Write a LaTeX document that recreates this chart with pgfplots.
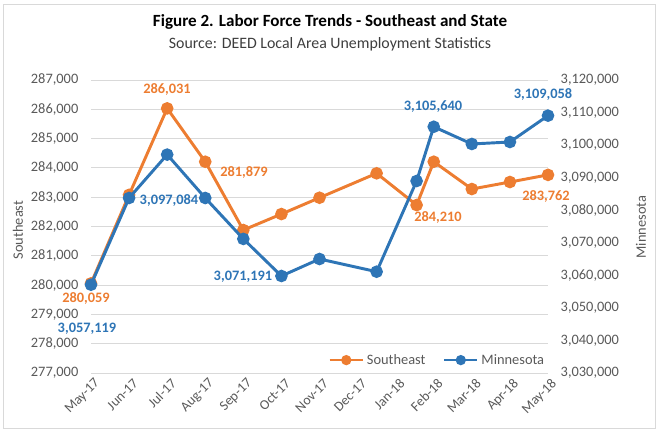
\documentclass[border=0pt]{standalone}
\usepackage{pgfplots}
\pgfplotsset{compat=1.18}
\usepackage{fontspec}
\setmainfont{Carlito}
\definecolor{seor}{HTML}{ED7D31}
\definecolor{mnbl}{HTML}{2E75B6}
\definecolor{txt}{HTML}{595959}
\definecolor{gridc}{HTML}{D9D9D9}
\begin{document}
\begin{tikzpicture}[x=0.75pt,y=0.75pt]
\useasboundingbox (0,0) rectangle (659,437);
\draw[color=gridc, line width=0.75pt] (3,9) rectangle (655,433);
\pgfplotsset{
  every axis/.append style={
    at={(68.25pt,48pt)}, anchor=south west, scale only axis,
    width=342.75pt, height=219.75pt, xmin=0, xmax=12, clip=false,
    major tick length=0pt, scaled y ticks=false,
    tick label style={font=\fontsize{10.8}{12}\selectfont, color=txt},
    /pgf/number format/.cd, fixed, 1000 sep={,}, assume math mode=true,
  },
  legimg/.style={legend image code/.code={\draw[mark repeat=2,mark phase=2,##1] plot coordinates {(0pt,0pt) (12.5pt,0pt) (25pt,0pt)};}},
}
\begin{axis}[
  axis y line*=left, axis x line*=bottom,
  axis line style={draw=none},
  ymin=277000, ymax=287000,
  ytick={277000,278000,279000,280000,281000,282000,283000,284000,285000,286000,287000},
  ymajorgrids, grid style={color=gridc, line width=0.75pt},
  xtick={0,1,2,3,4,5,6,7,8,9,10,11,12},
  xticklabels={May-17,Jun-17,Jul-17,Aug-17,Sep-17,Oct-17,Nov-17,Dec-17,Jan-18,Feb-18,Mar-18,Apr-18,May-18},
  xticklabel style={rotate=45, anchor=east, font=\fontsize{10.4}{12}\selectfont, xshift=2.5pt, yshift=-8pt},
  yticklabel style={xshift=-6pt},
]
\addplot[color=seor, line width=2.2pt, mark=*, mark size=3.6pt] coordinates {
 (0,280059) (1,283080) (2,286031) (3,284210) (4,281879) (5,282425) (6,282982)
 (7.5,283815) (8.55,282732) (9,284211) (10,283279) (11,283518) (12,283762)
};
\end{axis}
\begin{axis}[
  axis y line*=right, axis x line=none,
  axis line style={draw=none},
  ymin=3030000, ymax=3120000,
  ytick={3030000,3040000,3050000,3060000,3070000,3080000,3090000,3100000,3110000,3120000},
  yticklabel style={xshift=6pt},
  legend columns=2,
  legend style={at={(0.998,0.044)}, anchor=east, draw=none, fill=none,
    font=\fontsize{10.8}{12}\selectfont\color{txt},
    /tikz/every even column/.append style={column sep=11pt},
    /tikz/every odd column/.append style={column sep=0pt},
    cells={anchor=west}, inner sep=0pt},
]
\addlegendimage{color=seor, line width=2pt, mark=*, mark size=2.8pt, legimg}
\addlegendentry{Southeast}
\addplot[color=mnbl, line width=2.2pt, mark=*, mark size=3.6pt, forget plot] coordinates {
 (0,3057119) (1,3083760) (2,3097084) (3,3083760) (4,3071191) (5,3059800) (6,3065020)
 (7.5,3061120) (8.55,3088980) (9,3105640) (10,3100350) (11,3100960) (12,3109058)
};
\addlegendimage{color=mnbl, line width=2pt, mark=*, mark size=2.8pt, legimg}
\addlegendentry{Minnesota}
\end{axis}
% titles
\node[font=\bfseries\fontsize{12.8}{14}\selectfont] at (330,415) {Figure 2. Labor Force Trends - Southeast and State};
\node[font=\fontsize{11.9}{13}\selectfont, color=txt!70!black] at (330,393) {Source: DEED Local Area Unemployment Statistics};
\node[rotate=90, font=\fontsize{10.8}{12}\selectfont, color=txt] at (18,207) {Southeast};
\node[rotate=90, font=\fontsize{10.8}{12}\selectfont, color=txt] at (641,210) {Minnesota};
% data labels
\begin{scope}[every node/.style={font=\bfseries\fontsize{10.8}{12}\selectfont}]
\node[color=seor] at (167,348) {286,031};
\node[color=seor] at (244,265) {281,879};
\node[color=seor] at (86,139) {280,059};
\node[color=seor] at (438,220) {284,210};
\node[color=seor] at (546,241) {283,762};
\node[color=mnbl] at (87,108) {3,057,119};
\node[color=mnbl] at (169,237) {3,097,084};
\node[color=mnbl] at (243,160) {3,071,191};
\node[color=mnbl] at (433,330) {3,105,640};
\node[color=mnbl] at (543,343) {3,109,058};
\end{scope}
\end{tikzpicture}
\end{document}
